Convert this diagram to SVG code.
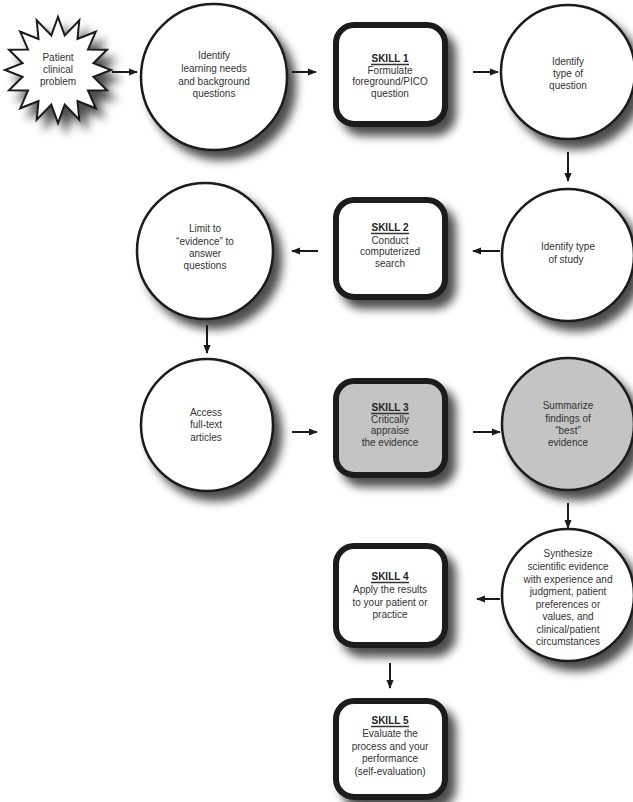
<svg xmlns="http://www.w3.org/2000/svg" width="633" height="802" viewBox="0 0 633 802">
<style>
text{font-family:"Liberation Sans",Arial,Helvetica,sans-serif;font-size:10px;fill:#333;text-anchor:middle}
.h{font-weight:bold;fill:#222}
.ul{stroke:#333;stroke-width:1.3}
.circ{fill:#fff;stroke:#1a1a1a;stroke-width:2.5}
.box{fill:#fff;stroke:#1a1a1a;stroke-width:6}
.star{fill:#fff;stroke:#1a1a1a;stroke-width:2}
.circ.gray,.box.gray{fill:#c4c4c4}
.arr{stroke:#1a1a1a;stroke-width:2;fill:none;marker-end:url(#ah)}
</style>
<defs>
<filter id="sh" x="-25%" y="-25%" width="160%" height="160%">
<feGaussianBlur in="SourceAlpha" stdDeviation="5" result="b"/>
<feOffset in="b" dx="8" dy="9" result="o"/>
<feComponentTransfer in="o" result="s"><feFuncA type="linear" slope="0.7"/></feComponentTransfer>
<feMerge><feMergeNode in="s"/><feMergeNode in="SourceGraphic"/></feMerge>
</filter>
<marker id="ah" viewBox="0 0 10 8" refX="9" refY="4" markerWidth="4.5" markerHeight="3.6" orient="auto" markerUnits="strokeWidth">
<path d="M0,0 L10,4 L0,8 Z" fill="#1a1a1a"/>
</marker>
</defs>

<g id="star">
<polygon class="star" filter="url(#sh)" points="111,70 93.4,76.8 107,90.3 88,90.6 95.8,108.3 77.5,101 79.3,119.8 64.7,104.6 58,123 51.3,104.6 36.7,119.8 38.5,101 20.2,108.3 28,90.6 9,90.3 22.6,76.8 5,70 22.6,63.2 9,49.7 28,49.4 20.2,31.7 38.5,39 36.7,20.2 51.3,35.4 58,17 64.7,35.4 79.3,20.2 77.5,39 95.8,31.7 88,49.4 107,49.7 93.4,63.2"/>
<text x="58" y="61">Patient</text>
<text x="58" y="73">clinical</text>
<text x="58" y="85">problem</text>
</g>

<g id="c1">
<circle class="circ" filter="url(#sh)" cx="214" cy="77" r="73"/>
<text x="214" y="59">Identify</text>
<text x="214" y="72">learning needs</text>
<text x="214" y="85">and background</text>
<text x="214" y="97">questions</text>
</g>

<g id="skill1">
<rect class="box" filter="url(#sh)" x="336" y="25" width="109" height="99" rx="18"/>
<text class="h" x="390" y="62">SKILL 1</text>
<line class="ul" x1="371" y1="64.5" x2="409" y2="64.5"/>
<text x="390" y="73.5">Formulate</text>
<text x="390" y="85">foreground/PICO</text>
<text x="390" y="96.5">question</text>
</g>

<g id="c2">
<circle class="circ" filter="url(#sh)" cx="568" cy="72" r="67"/>
<text x="568" y="65">Identify</text>
<text x="568" y="77">type of</text>
<text x="568" y="89">question</text>
</g>

<g id="c3">
<circle class="circ" filter="url(#sh)" cx="568" cy="255" r="66"/>
<text x="568" y="250">Identify type</text>
<text x="566" y="262.5">of study</text>
</g>

<g id="skill2">
<rect class="box" filter="url(#sh)" x="336" y="200" width="109" height="97" rx="18"/>
<text class="h" x="390" y="231">SKILL 2</text>
<line class="ul" x1="371" y1="233.5" x2="409" y2="233.5"/>
<text x="390" y="243.5">Conduct</text>
<text x="390" y="255">computerized</text>
<text x="390" y="266.5">search</text>
</g>

<g id="c4">
<circle class="circ" filter="url(#sh)" cx="205" cy="251" r="68"/>
<text x="205" y="232">Limit to</text>
<text x="205" y="244.5">“evidence” to</text>
<text x="205" y="257">answer</text>
<text x="205" y="269">questions</text>
</g>

<g id="c5">
<circle class="circ" filter="url(#sh)" cx="207" cy="425" r="66"/>
<text x="206" y="416">Access</text>
<text x="206" y="428">full-text</text>
<text x="206" y="441">articles</text>
</g>

<g id="skill3">
<rect class="box gray" filter="url(#sh)" x="336" y="381" width="109" height="94" rx="18"/>
<text class="h" x="390" y="411">SKILL 3</text>
<line class="ul" x1="371" y1="413.5" x2="409" y2="413.5"/>
<text x="390" y="422.5">Critically</text>
<text x="390" y="434">appraise</text>
<text x="390" y="445.5">the evidence</text>
</g>

<g id="c6">
<circle class="circ gray" filter="url(#sh)" cx="568" cy="424" r="66"/>
<text x="568" y="409">Summarize</text>
<text x="568" y="421.5">findings of</text>
<text x="568" y="434">“best”</text>
<text x="568" y="446">evidence</text>
</g>

<g id="c7">
<circle class="circ" filter="url(#sh)" cx="568" cy="595" r="66"/>
<text x="568" y="557">Synthesize</text>
<text x="568" y="570">scientific evidence</text>
<text x="568" y="582.5">with experience and</text>
<text x="568" y="595">judgment, patient</text>
<text x="568" y="607.5">preferences or</text>
<text x="568" y="620">values, and</text>
<text x="568" y="632.5">clinical/patient</text>
<text x="568" y="645">circumstances</text>
</g>

<g id="skill4">
<rect class="box" filter="url(#sh)" x="336" y="546" width="109" height="99" rx="18"/>
<text class="h" x="390" y="580">SKILL 4</text>
<line class="ul" x1="371" y1="582.5" x2="409" y2="582.5"/>
<text x="390" y="593">Apply the results</text>
<text x="390" y="605.5">to your patient or</text>
<text x="390" y="618">practice</text>
</g>

<g id="skill5">
<rect class="box" filter="url(#sh)" x="336" y="701" width="109" height="96" rx="18"/>
<text class="h" x="390" y="724">SKILL 5</text>
<line class="ul" x1="371" y1="726.5" x2="409" y2="726.5"/>
<text x="390" y="737">Evaluate the</text>
<text x="390" y="749.5">process and your</text>
<text x="390" y="762">performance</text>
<text x="390" y="774.5">(self-evaluation)</text>
</g>

<g id="connectors">
<line class="arr" x1="112" y1="72" x2="137" y2="72"/>
<line class="arr" x1="292" y1="72" x2="316" y2="72"/>
<line class="arr" x1="473" y1="72" x2="498" y2="72"/>
<line class="arr" x1="568" y1="152" x2="568" y2="181"/>
<line class="arr" x1="500" y1="251" x2="473" y2="251"/>
<line class="arr" x1="318" y1="251" x2="292" y2="251"/>
<line class="arr" x1="207" y1="325" x2="207" y2="353"/>
<line class="arr" x1="292" y1="432" x2="317" y2="432"/>
<line class="arr" x1="473" y1="432" x2="500" y2="432"/>
<line class="arr" x1="568" y1="503" x2="568" y2="528"/>
<line class="arr" x1="500" y1="599" x2="477" y2="599"/>
<line class="arr" x1="390" y1="663" x2="390" y2="688"/>
</g>
</svg>
